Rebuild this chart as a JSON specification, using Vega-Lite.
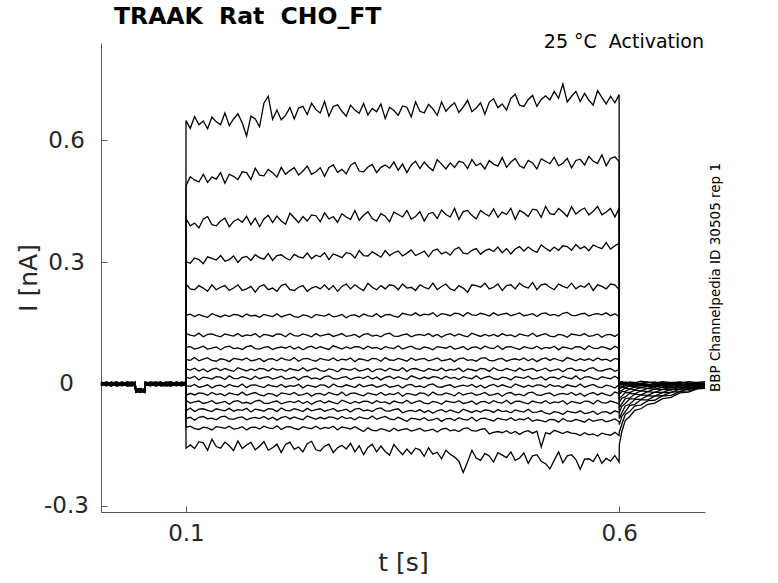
{
  "$schema": "https://vega.github.io/schema/vega-lite/v6.json",
  "description": "TRAAK Rat CHO_FT activation current traces",
  "autosize": {"type": "none"},
  "width": 604,
  "height": 469,
  "padding": {"left": 101, "top": 43, "right": 73, "bottom": 71},
  "background": "white",
  "title": {
    "text": "TRAAK\u00a0\u00a0Rat\u00a0\u00a0CHO_FT",
    "anchor": "start",
    "frame": "group",
    "dx": 13,
    "offset": -15,
    "baseline": "alphabetic",
    "font": "DejaVu Sans",
    "fontSize": 23.5,
    "fontWeight": "bold",
    "color": "#000000"
  },
  "config": {
    "view": {"stroke": null},
    "axis": {
      "grid": false,
      "domainColor": "#595959",
      "domainWidth": 1,
      "tickColor": "#595959",
      "tickWidth": 1,
      "tickSize": -6,
      "labelFont": "DejaVu Sans",
      "labelFontSize": 23,
      "labelColor": "#262626",
      "titleFont": "DejaVu Sans",
      "titleFontSize": 25,
      "titleFontWeight": "normal",
      "titleColor": "#262626"
    },
    "axisX": {"labelPadding": 16, "titlePadding": 5},
    "axisY": {"labelAlign": "center", "labelBaseline": "middle", "labelPadding": 41, "titlePadding": 2}
  },
  "layer": [
    {
      "data": {
        "values": [
          {"t":0.002,"a":0.002,"b":-0.003,"c":0.004,"d":-0.001,"e":0.003,"f":-0.004,"g":0.001,"h":-0.002,"i":0.005,"j":-0.003,"k":0.002,"l":-0.005,"m":0.003,"n":0.000,"o":-0.002,"p":0.004,"q":-0.004,"r":0.001},
          {"t":0.008,"a":-0.004,"b":0.003,"c":-0.001,"d":0.005,"e":-0.002,"f":0.002,"g":-0.005,"h":0.004,"i":0.000,"j":0.003,"k":-0.003,"l":0.001,"m":-0.004,"n":0.005,"o":0.002,"p":-0.001,"q":0.003,"r":-0.003},
          {"t":0.014,"a":0.005,"b":0.000,"c":-0.004,"d":0.002,"e":-0.005,"f":0.004,"g":0.003,"h":-0.001,"i":-0.003,"j":0.001,"k":0.005,"l":-0.002,"m":0.002,"n":-0.004,"o":0.004,"p":-0.005,"q":0.000,"r":0.003},
          {"t":0.020,"a":-0.001,"b":0.004,"c":0.002,"d":-0.005,"e":0.001,"f":-0.002,"g":0.005,"h":0.000,"i":0.003,"j":-0.004,"k":-0.001,"l":0.004,"m":-0.003,"n":0.002,"o":-0.005,"p":0.003,"q":0.005,"r":-0.002},
          {"t":0.026,"a":0.003,"b":-0.002,"c":-0.005,"d":0.004,"e":0.000,"f":0.001,"g":-0.003,"h":0.005,"i":-0.001,"j":-0.002,"k":0.004,"l":-0.004,"m":0.001,"n":0.003,"o":-0.003,"p":0.000,"q":-0.001,"r":0.004},
          {"t":0.032,"a":-0.003,"b":0.001,"c":0.003,"d":-0.002,"e":0.004,"f":-0.005,"g":0.000,"h":0.002,"i":-0.004,"j":0.005,"k":-0.001,"l":0.003,"m":-0.002,"n":-0.003,"o":0.001,"p":0.005,"q":-0.004,"r":0.000},
          {"t":0.038,"a":0.002,"b":-0.003,"c":0.004,"d":-0.001,"e":0.003,"f":-0.004,"g":0.001,"h":-0.002,"i":0.005,"j":-0.003,"k":0.002,"l":-0.005,"m":0.003,"n":0.000,"o":-0.002,"p":0.004,"q":-0.004,"r":0.001},
          {"t":0.0415,"a":0.005,"b":0.000,"c":-0.004,"d":0.002,"e":-0.005,"f":0.004,"g":0.003,"h":-0.001,"i":-0.003,"j":0.001,"k":0.005,"l":-0.002,"m":0.002,"n":-0.004,"o":0.004,"p":-0.005,"q":0.000,"r":0.003},
          {"t":0.042,"a":-0.020,"b":-0.013,"c":-0.017,"d":-0.011,"e":-0.018,"f":-0.014,"g":-0.021,"h":-0.012,"i":-0.016,"j":-0.013,"k":-0.019,"l":-0.015,"m":-0.020,"n":-0.011,"o":-0.014,"p":-0.017,"q":-0.013,"r":-0.019},
          {"t":0.0475,"a":-0.013,"b":-0.018,"c":-0.021,"d":-0.012,"e":-0.016,"f":-0.015,"g":-0.019,"h":-0.011,"i":-0.017,"j":-0.018,"k":-0.012,"l":-0.020,"m":-0.015,"n":-0.013,"o":-0.019,"p":-0.016,"q":-0.017,"r":-0.012},
          {"t":0.0525,"a":-0.017,"b":-0.012,"c":-0.014,"d":-0.021,"e":-0.015,"f":-0.018,"g":-0.011,"h":-0.016,"i":-0.013,"j":-0.020,"k":-0.017,"l":-0.012,"m":-0.019,"n":-0.014,"o":-0.021,"p":-0.013,"q":-0.011,"r":-0.018},
          {"t":0.053,"a":-0.003,"b":0.001,"c":0.003,"d":-0.002,"e":0.004,"f":-0.005,"g":0.000,"h":0.002,"i":-0.004,"j":0.005,"k":-0.001,"l":0.003,"m":-0.002,"n":-0.003,"o":0.001,"p":0.005,"q":-0.004,"r":0.000},
          {"t":0.059,"a":-0.004,"b":0.003,"c":-0.001,"d":0.005,"e":-0.002,"f":0.002,"g":-0.005,"h":0.004,"i":0.000,"j":0.003,"k":-0.003,"l":0.001,"m":-0.004,"n":0.005,"o":0.002,"p":-0.001,"q":0.003,"r":-0.003},
          {"t":0.065,"a":-0.001,"b":0.004,"c":0.002,"d":-0.005,"e":0.001,"f":-0.002,"g":0.005,"h":0.000,"i":0.003,"j":-0.004,"k":-0.001,"l":0.004,"m":-0.003,"n":0.002,"o":-0.005,"p":0.003,"q":0.005,"r":-0.002},
          {"t":0.071,"a":0.002,"b":-0.003,"c":0.004,"d":-0.001,"e":0.003,"f":-0.004,"g":0.001,"h":-0.002,"i":0.005,"j":-0.003,"k":0.002,"l":-0.005,"m":0.003,"n":0.000,"o":-0.002,"p":0.004,"q":-0.004,"r":0.001},
          {"t":0.077,"a":0.003,"b":-0.002,"c":-0.005,"d":0.004,"e":0.000,"f":0.001,"g":-0.003,"h":0.005,"i":-0.001,"j":-0.002,"k":0.004,"l":-0.004,"m":0.001,"n":0.003,"o":-0.003,"p":0.000,"q":-0.001,"r":0.004},
          {"t":0.083,"a":0.005,"b":0.000,"c":-0.004,"d":0.002,"e":-0.005,"f":0.004,"g":0.003,"h":-0.001,"i":-0.003,"j":0.001,"k":0.005,"l":-0.002,"m":0.002,"n":-0.004,"o":0.004,"p":-0.005,"q":0.000,"r":0.003},
          {"t":0.089,"a":-0.003,"b":0.001,"c":0.003,"d":-0.002,"e":0.004,"f":-0.005,"g":0.000,"h":0.002,"i":-0.004,"j":0.005,"k":-0.001,"l":0.003,"m":-0.002,"n":-0.003,"o":0.001,"p":0.005,"q":-0.004,"r":0.000},
          {"t":0.095,"a":-0.004,"b":0.003,"c":-0.001,"d":0.005,"e":-0.002,"f":0.002,"g":-0.005,"h":0.004,"i":0.000,"j":0.003,"k":-0.003,"l":0.001,"m":-0.004,"n":0.005,"o":0.002,"p":-0.001,"q":0.003,"r":-0.003},
          {"t":0.0999,"a":-0.001,"b":0.004,"c":0.002,"d":-0.005,"e":0.001,"f":-0.002,"g":0.005,"h":0.000,"i":0.003,"j":-0.004,"k":-0.001,"l":0.004,"m":-0.003,"n":0.002,"o":-0.005,"p":0.003,"q":0.005,"r":-0.002},
          {"t":0.1001,"a":0.648,"b":0.488,"c":0.407,"d":0.301,"e":0.246,"f":0.169,"g":0.124,"h":0.090,"i":0.060,"j":0.037,"k":0.016,"l":-0.004,"m":-0.028,"n":-0.041,"o":-0.066,"p":-0.085,"q":-0.107,"r":-0.158},
          {"t":0.105,"a":0.629,"b":0.510,"c":0.389,"d":0.297,"e":0.234,"f":0.172,"g":0.120,"h":0.092,"i":0.058,"j":0.034,"k":0.014,"l":-0.006,"m":-0.023,"n":-0.047,"o":-0.059,"p":-0.082,"q":-0.104,"r":-0.150},
          {"t":0.110,"a":0.658,"b":0.502,"c":0.396,"d":0.310,"e":0.232,"f":0.166,"g":0.118,"h":0.086,"i":0.065,"j":0.039,"k":0.019,"l":-0.001,"m":-0.027,"n":-0.044,"o":-0.068,"p":-0.089,"q":-0.110,"r":-0.159},
          {"t":0.115,"a":0.638,"b":0.497,"c":0.384,"d":0.306,"e":0.242,"f":0.171,"g":0.125,"h":0.089,"i":0.057,"j":0.032,"k":0.010,"l":-0.008,"m":-0.022,"n":-0.042,"o":-0.062,"p":-0.082,"q":-0.112,"r":-0.142},
          {"t":0.120,"a":0.647,"b":0.516,"c":0.406,"d":0.296,"e":0.236,"f":0.167,"g":0.116,"h":0.093,"i":0.061,"j":0.037,"k":0.017,"l":-0.006,"m":-0.023,"n":-0.048,"o":-0.061,"p":-0.080,"q":-0.106,"r":-0.145},
          {"t":0.125,"a":0.628,"b":0.496,"c":0.412,"d":0.313,"e":0.228,"f":0.164,"g":0.122,"h":0.086,"i":0.064,"j":0.030,"k":0.015,"l":-0.002,"m":-0.028,"n":-0.045,"o":-0.065,"p":-0.086,"q":-0.108,"r":-0.163},
          {"t":0.130,"a":0.657,"b":0.509,"c":0.392,"d":0.309,"e":0.244,"f":0.173,"g":0.123,"h":0.088,"i":0.058,"j":0.036,"k":0.012,"l":-0.010,"m":-0.021,"n":-0.041,"o":-0.068,"p":-0.084,"q":-0.113,"r":-0.136},
          {"t":0.135,"a":0.645,"b":0.504,"c":0.389,"d":0.305,"e":0.232,"f":0.169,"g":0.119,"h":0.091,"i":0.056,"j":0.039,"k":0.018,"l":-0.004,"m":-0.026,"n":-0.048,"o":-0.061,"p":-0.088,"q":-0.105,"r":-0.154},
          {"t":0.140,"a":0.638,"b":0.520,"c":0.401,"d":0.316,"e":0.238,"f":0.165,"g":0.116,"h":0.084,"i":0.062,"j":0.033,"k":0.017,"l":-0.003,"m":-0.024,"n":-0.046,"o":-0.064,"p":-0.081,"q":-0.107,"r":-0.158},
          {"t":0.145,"a":0.667,"b":0.494,"c":0.408,"d":0.302,"e":0.242,"f":0.170,"g":0.123,"h":0.091,"i":0.060,"j":0.038,"k":0.011,"l":-0.008,"m":-0.029,"n":-0.043,"o":-0.066,"p":-0.079,"q":-0.109,"r":-0.143},
          {"t":0.150,"a":0.636,"b":0.516,"c":0.387,"d":0.306,"e":0.230,"f":0.166,"g":0.120,"h":0.093,"i":0.055,"j":0.034,"k":0.020,"l":-0.001,"m":-0.022,"n":-0.050,"o":-0.060,"p":-0.086,"q":-0.104,"r":-0.152},
          {"t":0.155,"a":0.652,"b":0.511,"c":0.400,"d":0.315,"e":0.236,"f":0.171,"g":0.118,"h":0.087,"i":0.063,"j":0.031,"k":0.014,"l":-0.005,"m":-0.025,"n":-0.043,"o":-0.067,"p":-0.087,"q":-0.111,"r":-0.164},
          {"t":0.160,"a":0.665,"b":0.503,"c":0.406,"d":0.299,"e":0.244,"f":0.170,"g":0.124,"h":0.089,"i":0.061,"j":0.040,"k":0.013,"l":-0.007,"m":-0.027,"n":-0.041,"o":-0.063,"p":-0.083,"q":-0.109,"r":-0.140},
          {"t":0.165,"a":0.642,"b":0.522,"c":0.398,"d":0.311,"e":0.230,"f":0.165,"g":0.117,"h":0.085,"i":0.059,"j":0.036,"k":0.018,"l":0.000,"m":-0.020,"n":-0.047,"o":-0.065,"p":-0.081,"q":-0.105,"r":-0.159},
          {"t":0.170,"a":0.610,"b":0.520,"c":0.413,"d":0.314,"e":0.234,"f":0.172,"g":0.121,"h":0.092,"i":0.064,"j":0.032,"k":0.015,"l":-0.009,"m":-0.028,"n":-0.045,"o":-0.060,"p":-0.088,"q":-0.113,"r":-0.150},
          {"t":0.175,"a":0.659,"b":0.503,"c":0.392,"d":0.304,"e":0.240,"f":0.167,"g":0.119,"h":0.094,"i":0.057,"j":0.037,"k":0.011,"l":-0.003,"m":-0.024,"n":-0.049,"o":-0.069,"p":-0.084,"q":-0.107,"r":-0.144},
          {"t":0.180,"a":0.652,"b":0.531,"c":0.408,"d":0.318,"e":0.226,"f":0.169,"g":0.124,"h":0.087,"i":0.059,"j":0.033,"k":0.019,"l":-0.002,"m":-0.021,"n":-0.042,"o":-0.062,"p":-0.082,"q":-0.106,"r":-0.162},
          {"t":0.185,"a":0.633,"b":0.514,"c":0.387,"d":0.311,"e":0.240,"f":0.164,"g":0.115,"h":0.086,"i":0.063,"j":0.038,"k":0.013,"l":-0.006,"m":-0.027,"n":-0.040,"o":-0.064,"p":-0.085,"q":-0.111,"r":-0.153},
          {"t":0.190,"a":0.691,"b":0.512,"c":0.406,"d":0.307,"e":0.244,"f":0.171,"g":0.122,"h":0.090,"i":0.055,"j":0.037,"k":0.016,"l":-0.009,"m":-0.029,"n":-0.047,"o":-0.067,"p":-0.080,"q":-0.104,"r":-0.142},
          {"t":0.195,"a":0.708,"b":0.528,"c":0.415,"d":0.321,"e":0.232,"f":0.168,"g":0.120,"h":0.092,"i":0.061,"j":0.032,"k":0.018,"l":-0.002,"m":-0.023,"n":-0.048,"o":-0.061,"p":-0.087,"q":-0.108,"r":-0.163},
          {"t":0.200,"a":0.651,"b":0.520,"c":0.397,"d":0.304,"e":0.236,"f":0.166,"g":0.117,"h":0.085,"i":0.062,"j":0.039,"k":0.012,"l":-0.005,"m":-0.025,"n":-0.044,"o":-0.062,"p":-0.082,"q":-0.110,"r":-0.157},
          {"t":0.205,"a":0.674,"b":0.509,"c":0.413,"d":0.316,"e":0.228,"f":0.173,"g":0.123,"h":0.089,"i":0.057,"j":0.034,"k":0.015,"l":-0.007,"m":-0.030,"n":-0.042,"o":-0.068,"p":-0.089,"q":-0.103,"r":-0.148},
          {"t":0.210,"a":0.650,"b":0.533,"c":0.401,"d":0.318,"e":0.242,"f":0.165,"g":0.122,"h":0.091,"i":0.064,"j":0.036,"k":0.019,"l":-0.001,"m":-0.022,"n":-0.049,"o":-0.059,"p":-0.083,"q":-0.112,"r":-0.169},
          {"t":0.215,"a":0.661,"b":0.516,"c":0.393,"d":0.310,"e":0.246,"f":0.169,"g":0.116,"h":0.088,"i":0.060,"j":0.031,"k":0.012,"l":-0.008,"m":-0.024,"n":-0.045,"o":-0.065,"p":-0.080,"q":-0.106,"r":-0.149},
          {"t":0.220,"a":0.680,"b":0.525,"c":0.420,"d":0.305,"e":0.232,"f":0.172,"g":0.125,"h":0.093,"i":0.058,"j":0.038,"k":0.014,"l":-0.004,"m":-0.026,"n":-0.043,"o":-0.066,"p":-0.086,"q":-0.105,"r":-0.143},
          {"t":0.225,"a":0.652,"b":0.532,"c":0.409,"d":0.319,"e":0.230,"f":0.166,"g":0.119,"h":0.086,"i":0.065,"j":0.035,"k":0.017,"l":-0.006,"m":-0.021,"n":-0.046,"o":-0.061,"p":-0.081,"q":-0.109,"r":-0.161},
          {"t":0.230,"a":0.679,"b":0.514,"c":0.397,"d":0.313,"e":0.238,"f":0.164,"g":0.118,"h":0.091,"i":0.056,"j":0.033,"k":0.010,"l":-0.001,"m":-0.028,"n":-0.041,"o":-0.064,"p":-0.085,"q":-0.112,"r":-0.155},
          {"t":0.235,"a":0.683,"b":0.524,"c":0.412,"d":0.310,"e":0.242,"f":0.170,"g":0.123,"h":0.084,"i":0.062,"j":0.040,"k":0.017,"l":-0.010,"m":-0.026,"n":-0.048,"o":-0.068,"p":-0.088,"q":-0.105,"r":-0.167},
          {"t":0.240,"a":0.663,"b":0.536,"c":0.401,"d":0.322,"e":0.228,"f":0.168,"g":0.120,"h":0.090,"i":0.063,"j":0.032,"k":0.019,"l":-0.003,"m":-0.022,"n":-0.043,"o":-0.060,"p":-0.079,"q":-0.108,"r":-0.147},
          {"t":0.245,"a":0.691,"b":0.516,"c":0.416,"d":0.308,"e":0.236,"f":0.163,"g":0.116,"h":0.093,"i":0.059,"j":0.036,"k":0.013,"l":-0.005,"m":-0.030,"n":-0.050,"o":-0.066,"p":-0.083,"q":-0.110,"r":-0.141},
          {"t":0.250,"a":0.675,"b":0.522,"c":0.414,"d":0.317,"e":0.240,"f":0.171,"g":0.124,"h":0.087,"i":0.056,"j":0.039,"k":0.015,"l":-0.008,"m":-0.024,"n":-0.044,"o":-0.063,"p":-0.087,"q":-0.104,"r":-0.162},
          {"t":0.255,"a":0.667,"b":0.532,"c":0.399,"d":0.313,"e":0.234,"f":0.169,"g":0.118,"h":0.092,"i":0.063,"j":0.033,"k":0.011,"l":-0.002,"m":-0.023,"n":-0.041,"o":-0.061,"p":-0.082,"q":-0.111,"r":-0.165},
          {"t":0.260,"a":0.695,"b":0.511,"c":0.421,"d":0.323,"e":0.244,"f":0.167,"g":0.121,"h":0.088,"i":0.060,"j":0.031,"k":0.018,"l":-0.003,"m":-0.028,"n":-0.047,"o":-0.067,"p":-0.086,"q":-0.107,"r":-0.153},
          {"t":0.265,"a":0.659,"b":0.533,"c":0.406,"d":0.306,"e":0.232,"f":0.172,"g":0.123,"h":0.085,"i":0.058,"j":0.037,"k":0.020,"l":-0.009,"m":-0.021,"n":-0.042,"o":-0.064,"p":-0.081,"q":-0.109,"r":-0.148},
          {"t":0.270,"a":0.683,"b":0.539,"c":0.412,"d":0.320,"e":0.242,"f":0.165,"g":0.117,"h":0.094,"i":0.064,"j":0.035,"k":0.013,"l":0.000,"m":-0.025,"n":-0.046,"o":-0.060,"p":-0.082,"q":-0.104,"r":-0.169},
          {"t":0.275,"a":0.687,"b":0.521,"c":0.398,"d":0.316,"e":0.228,"f":0.167,"g":0.120,"h":0.090,"i":0.057,"j":0.030,"k":0.012,"l":-0.006,"m":-0.027,"n":-0.049,"o":-0.067,"p":-0.087,"q":-0.113,"r":-0.157},
          {"t":0.280,"a":0.671,"b":0.528,"c":0.419,"d":0.311,"e":0.240,"f":0.171,"g":0.124,"h":0.086,"i":0.061,"j":0.038,"k":0.016,"l":-0.007,"m":-0.020,"n":-0.040,"o":-0.065,"p":-0.080,"q":-0.106,"r":-0.151},
          {"t":0.285,"a":0.659,"b":0.517,"c":0.411,"d":0.323,"e":0.246,"f":0.163,"g":0.117,"h":0.091,"i":0.059,"j":0.036,"k":0.018,"l":-0.002,"m":-0.029,"n":-0.044,"o":-0.062,"p":-0.085,"q":-0.108,"r":-0.160},
          {"t":0.290,"a":0.686,"b":0.538,"c":0.405,"d":0.321,"e":0.234,"f":0.169,"g":0.119,"h":0.087,"i":0.064,"j":0.034,"k":0.011,"l":-0.005,"m":-0.023,"n":-0.048,"o":-0.069,"p":-0.083,"q":-0.111,"r":-0.146},
          {"t":0.295,"a":0.674,"b":0.545,"c":0.427,"d":0.310,"e":0.244,"f":0.170,"g":0.122,"h":0.092,"i":0.055,"j":0.039,"k":0.015,"l":-0.009,"m":-0.022,"n":-0.043,"o":-0.062,"p":-0.088,"q":-0.105,"r":-0.167},
          {"t":0.300,"a":0.666,"b":0.524,"c":0.403,"d":0.328,"e":0.236,"f":0.165,"g":0.115,"h":0.091,"i":0.062,"j":0.032,"k":0.017,"l":-0.001,"m":-0.026,"n":-0.047,"o":-0.060,"p":-0.081,"q":-0.111,"r":-0.152},
          {"t":0.305,"a":0.690,"b":0.522,"c":0.415,"d":0.316,"e":0.230,"f":0.172,"g":0.122,"h":0.086,"i":0.060,"j":0.034,"k":0.014,"l":-0.007,"m":-0.029,"n":-0.042,"o":-0.066,"p":-0.084,"q":-0.117,"r":-0.174},
          {"t":0.310,"a":0.662,"b":0.534,"c":0.424,"d":0.315,"e":0.248,"f":0.168,"g":0.124,"h":0.093,"i":0.057,"j":0.038,"k":0.019,"l":-0.004,"m":-0.022,"n":-0.043,"o":-0.064,"p":-0.086,"q":-0.108,"r":-0.156},
          {"t":0.315,"a":0.678,"b":0.540,"c":0.407,"d":0.325,"e":0.238,"f":0.166,"g":0.118,"h":0.088,"i":0.063,"j":0.030,"k":0.012,"l":-0.002,"m":-0.025,"n":-0.048,"o":-0.068,"p":-0.079,"q":-0.114,"r":-0.148},
          {"t":0.320,"a":0.670,"b":0.520,"c":0.401,"d":0.319,"e":0.232,"f":0.173,"g":0.120,"h":0.090,"i":0.062,"j":0.036,"k":0.017,"l":-0.008,"m":-0.027,"n":-0.041,"o":-0.061,"p":-0.087,"q":-0.115,"r":-0.167},
          {"t":0.325,"a":0.689,"b":0.533,"c":0.419,"d":0.312,"e":0.242,"f":0.164,"g":0.116,"h":0.085,"i":0.056,"j":0.037,"k":0.010,"l":-0.005,"m":-0.021,"n":-0.046,"o":-0.059,"p":-0.083,"q":-0.110,"r":-0.153},
          {"t":0.330,"a":0.653,"b":0.539,"c":0.413,"d":0.328,"e":0.234,"f":0.170,"g":0.123,"h":0.092,"i":0.065,"j":0.032,"k":0.016,"l":-0.001,"m":-0.028,"n":-0.044,"o":-0.066,"p":-0.080,"q":-0.113,"r":-0.166},
          {"t":0.335,"a":0.681,"b":0.531,"c":0.399,"d":0.316,"e":0.244,"f":0.171,"g":0.125,"h":0.089,"i":0.059,"j":0.039,"k":0.019,"l":-0.008,"m":-0.024,"n":-0.049,"o":-0.067,"p":-0.086,"q":-0.117,"r":-0.175},
          {"t":0.340,"a":0.673,"b":0.546,"c":0.423,"d":0.323,"e":0.242,"f":0.167,"g":0.118,"h":0.087,"i":0.058,"j":0.035,"k":0.013,"l":-0.006,"m":-0.026,"n":-0.042,"o":-0.063,"p":-0.088,"q":-0.109,"r":-0.149},
          {"t":0.345,"a":0.661,"b":0.526,"c":0.417,"d":0.327,"e":0.232,"f":0.164,"g":0.117,"h":0.094,"i":0.063,"j":0.033,"k":0.018,"l":-0.003,"m":-0.021,"n":-0.045,"o":-0.061,"p":-0.082,"q":-0.115,"r":-0.162},
          {"t":0.350,"a":0.684,"b":0.541,"c":0.411,"d":0.315,"e":0.246,"f":0.174,"g":0.121,"h":0.086,"i":0.060,"j":0.040,"k":0.014,"l":-0.010,"m":-0.030,"n":-0.047,"o":-0.071,"p":-0.087,"q":-0.112,"r":-0.174},
          {"t":0.355,"a":0.681,"b":0.520,"c":0.427,"d":0.322,"e":0.236,"f":0.171,"g":0.123,"h":0.090,"i":0.056,"j":0.031,"k":0.011,"l":-0.003,"m":-0.023,"n":-0.040,"o":-0.067,"p":-0.092,"q":-0.110,"r":-0.160},
          {"t":0.360,"a":0.657,"b":0.539,"c":0.406,"d":0.330,"e":0.238,"f":0.169,"g":0.116,"h":0.093,"i":0.064,"j":0.037,"k":0.020,"l":-0.001,"m":-0.025,"n":-0.048,"o":-0.065,"p":-0.084,"q":-0.116,"r":-0.172},
          {"t":0.365,"a":0.694,"b":0.548,"c":0.412,"d":0.316,"e":0.230,"f":0.175,"g":0.120,"h":0.087,"i":0.058,"j":0.038,"k":0.016,"l":-0.007,"m":-0.028,"n":-0.044,"o":-0.068,"p":-0.086,"q":-0.113,"r":-0.158},
          {"t":0.370,"a":0.671,"b":0.530,"c":0.424,"d":0.321,"e":0.244,"f":0.168,"g":0.122,"h":0.085,"i":0.061,"j":0.034,"k":0.012,"l":-0.005,"m":-0.022,"n":-0.041,"o":-0.063,"p":-0.088,"q":-0.109,"r":-0.162},
          {"t":0.375,"a":0.667,"b":0.546,"c":0.401,"d":0.327,"e":0.238,"f":0.172,"g":0.119,"h":0.091,"i":0.063,"j":0.031,"k":0.017,"l":-0.009,"m":-0.023,"n":-0.047,"o":-0.070,"p":-0.083,"q":-0.116,"r":-0.178},
          {"t":0.380,"a":0.688,"b":0.534,"c":0.419,"d":0.313,"e":0.234,"f":0.170,"g":0.124,"h":0.089,"i":0.057,"j":0.038,"k":0.013,"l":-0.002,"m":-0.029,"n":-0.049,"o":-0.065,"p":-0.090,"q":-0.114,"r":-0.157},
          {"t":0.385,"a":0.677,"b":0.525,"c":0.422,"d":0.328,"e":0.248,"f":0.175,"g":0.117,"h":0.084,"i":0.060,"j":0.035,"k":0.018,"l":0.000,"m":-0.020,"n":-0.043,"o":-0.072,"p":-0.088,"q":-0.111,"r":-0.173},
          {"t":0.390,"a":0.661,"b":0.552,"c":0.407,"d":0.332,"e":0.232,"f":0.166,"g":0.122,"h":0.092,"i":0.064,"j":0.033,"k":0.017,"l":-0.007,"m":-0.026,"n":-0.045,"o":-0.066,"p":-0.084,"q":-0.118,"r":-0.168},
          {"t":0.395,"a":0.694,"b":0.541,"c":0.428,"d":0.320,"e":0.240,"f":0.173,"g":0.115,"h":0.090,"i":0.057,"j":0.039,"k":0.012,"l":-0.008,"m":-0.027,"n":-0.050,"o":-0.063,"p":-0.092,"q":-0.111,"r":-0.184},
          {"t":0.400,"a":0.671,"b":0.529,"c":0.417,"d":0.325,"e":0.246,"f":0.171,"g":0.121,"h":0.088,"i":0.059,"j":0.032,"k":0.019,"l":-0.004,"m":-0.022,"n":-0.042,"o":-0.069,"p":-0.086,"q":-0.109,"r":-0.163},
          {"t":0.405,"a":0.683,"b":0.544,"c":0.411,"d":0.317,"e":0.234,"f":0.168,"g":0.124,"h":0.093,"i":0.062,"j":0.036,"k":0.014,"l":-0.002,"m":-0.025,"n":-0.044,"o":-0.064,"p":-0.085,"q":-0.115,"r":-0.173},
          {"t":0.410,"a":0.692,"b":0.533,"c":0.432,"d":0.331,"e":0.230,"f":0.174,"g":0.118,"h":0.086,"i":0.055,"j":0.034,"k":0.016,"l":-0.009,"m":-0.029,"n":-0.046,"o":-0.068,"p":-0.090,"q":-0.113,"r":-0.180},
          {"t":0.415,"a":0.668,"b":0.548,"c":0.405,"d":0.336,"e":0.242,"f":0.173,"g":0.123,"h":0.088,"i":0.062,"j":0.039,"k":0.011,"l":-0.005,"m":-0.021,"n":-0.041,"o":-0.071,"p":-0.083,"q":-0.117,"r":-0.190},
          {"t":0.420,"a":0.681,"b":0.545,"c":0.424,"d":0.322,"e":0.236,"f":0.167,"g":0.119,"h":0.092,"i":0.064,"j":0.030,"k":0.018,"l":-0.003,"m":-0.027,"n":-0.048,"o":-0.062,"p":-0.087,"q":-0.110,"r":-0.218},
          {"t":0.425,"a":0.698,"b":0.530,"c":0.427,"d":0.320,"e":0.226,"f":0.176,"g":0.116,"h":0.084,"i":0.058,"j":0.037,"k":0.015,"l":-0.006,"m":-0.024,"n":-0.046,"o":-0.066,"p":-0.089,"q":-0.108,"r":-0.192},
          {"t":0.430,"a":0.670,"b":0.552,"c":0.415,"d":0.329,"e":0.244,"f":0.170,"g":0.125,"h":0.090,"i":0.060,"j":0.035,"k":0.013,"l":-0.001,"m":-0.022,"n":-0.042,"o":-0.070,"p":-0.082,"q":-0.115,"r":-0.163},
          {"t":0.435,"a":0.679,"b":0.537,"c":0.406,"d":0.333,"e":0.242,"f":0.169,"g":0.121,"h":0.091,"i":0.056,"j":0.032,"k":0.020,"l":-0.008,"m":-0.028,"n":-0.050,"o":-0.065,"p":-0.091,"q":-0.116,"r":-0.182},
          {"t":0.440,"a":0.692,"b":0.543,"c":0.427,"d":0.319,"e":0.238,"f":0.174,"g":0.117,"h":0.086,"i":0.063,"j":0.038,"k":0.012,"l":-0.003,"m":-0.025,"n":-0.044,"o":-0.069,"p":-0.085,"q":-0.112,"r":-0.188},
          {"t":0.445,"a":0.664,"b":0.529,"c":0.419,"d":0.328,"e":0.248,"f":0.171,"g":0.122,"h":0.093,"i":0.065,"j":0.037,"k":0.016,"l":-0.010,"m":-0.021,"n":-0.043,"o":-0.064,"p":-0.084,"q":-0.110,"r":-0.171},
          {"t":0.450,"a":0.693,"b":0.550,"c":0.413,"d":0.332,"e":0.234,"f":0.167,"g":0.118,"h":0.089,"i":0.058,"j":0.031,"k":0.019,"l":-0.004,"m":-0.028,"n":-0.048,"o":-0.065,"p":-0.088,"q":-0.123,"r":-0.177},
          {"t":0.455,"a":0.702,"b":0.541,"c":0.431,"d":0.326,"e":0.238,"f":0.175,"g":0.122,"h":0.087,"i":0.057,"j":0.040,"k":0.013,"l":-0.001,"m":-0.026,"n":-0.041,"o":-0.070,"p":-0.091,"q":-0.119,"r":-0.192},
          {"t":0.460,"a":0.680,"b":0.536,"c":0.410,"d":0.337,"e":0.246,"f":0.169,"g":0.117,"h":0.094,"i":0.061,"j":0.034,"k":0.011,"l":-0.007,"m":-0.023,"n":-0.045,"o":-0.063,"p":-0.084,"q":-0.117,"r":-0.169},
          {"t":0.465,"a":0.689,"b":0.557,"c":0.423,"d":0.323,"e":0.230,"f":0.172,"g":0.124,"h":0.085,"i":0.063,"j":0.033,"k":0.017,"l":-0.002,"m":-0.030,"n":-0.047,"o":-0.068,"p":-0.087,"q":-0.120,"r":-0.175},
          {"t":0.470,"a":0.674,"b":0.533,"c":0.417,"d":0.333,"e":0.242,"f":0.174,"g":0.119,"h":0.091,"i":0.056,"j":0.038,"k":0.015,"l":-0.006,"m":-0.023,"n":-0.040,"o":-0.066,"p":-0.089,"q":-0.115,"r":-0.181},
          {"t":0.475,"a":0.703,"b":0.546,"c":0.432,"d":0.320,"e":0.244,"f":0.168,"g":0.121,"h":0.092,"i":0.060,"j":0.035,"k":0.010,"l":-0.009,"m":-0.021,"n":-0.049,"o":-0.071,"p":-0.083,"q":-0.122,"r":-0.167},
          {"t":0.480,"a":0.713,"b":0.555,"c":0.405,"d":0.332,"e":0.234,"f":0.171,"g":0.116,"h":0.088,"i":0.062,"j":0.031,"k":0.018,"l":0.000,"m":-0.027,"n":-0.043,"o":-0.064,"p":-0.090,"q":-0.117,"r":-0.188},
          {"t":0.485,"a":0.686,"b":0.537,"c":0.427,"d":0.338,"e":0.248,"f":0.175,"g":0.123,"h":0.085,"i":0.059,"j":0.039,"k":0.016,"l":-0.004,"m":-0.025,"n":-0.042,"o":-0.067,"p":-0.086,"q":-0.124,"r":-0.182},
          {"t":0.490,"a":0.683,"b":0.531,"c":0.421,"d":0.327,"e":0.240,"f":0.168,"g":0.120,"h":0.092,"i":0.064,"j":0.033,"k":0.014,"l":-0.008,"m":-0.029,"n":-0.046,"o":-0.069,"p":-0.088,"q":-0.118,"r":-0.170},
          {"t":0.495,"a":0.700,"b":0.550,"c":0.412,"d":0.337,"e":0.236,"f":0.170,"g":0.118,"h":0.089,"i":0.057,"j":0.036,"k":0.019,"l":-0.003,"m":-0.022,"n":-0.049,"o":-0.062,"p":-0.083,"q":-0.115,"r":-0.195},
          {"t":0.500,"a":0.710,"b":0.544,"c":0.430,"d":0.329,"e":0.250,"f":0.173,"g":0.125,"h":0.087,"i":0.062,"j":0.038,"k":0.012,"l":-0.007,"m":-0.020,"n":-0.042,"o":-0.070,"p":-0.092,"q":-0.121,"r":-0.177},
          {"t":0.505,"a":0.683,"b":0.529,"c":0.428,"d":0.324,"e":0.232,"f":0.166,"g":0.117,"h":0.093,"i":0.055,"j":0.032,"k":0.014,"l":-0.002,"m":-0.027,"n":-0.045,"o":-0.069,"p":-0.088,"q":-0.116,"r":-0.174},
          {"t":0.510,"a":0.700,"b":0.554,"c":0.410,"d":0.342,"e":0.244,"f":0.173,"g":0.121,"h":0.086,"i":0.061,"j":0.035,"k":0.018,"l":-0.003,"m":-0.028,"n":-0.047,"o":-0.066,"p":-0.090,"q":-0.155,"r":-0.190},
          {"t":0.515,"a":0.709,"b":0.548,"c":0.437,"d":0.334,"e":0.246,"f":0.175,"g":0.124,"h":0.090,"i":0.064,"j":0.039,"k":0.010,"l":-0.008,"m":-0.024,"n":-0.041,"o":-0.072,"p":-0.093,"q":-0.120,"r":-0.196},
          {"t":0.520,"a":0.699,"b":0.542,"c":0.419,"d":0.327,"e":0.238,"f":0.169,"g":0.118,"h":0.088,"i":0.058,"j":0.032,"k":0.016,"l":-0.001,"m":-0.022,"n":-0.048,"o":-0.074,"p":-0.087,"q":-0.123,"r":-0.209},
          {"t":0.525,"a":0.720,"b":0.558,"c":0.417,"d":0.337,"e":0.232,"f":0.171,"g":0.116,"h":0.093,"i":0.063,"j":0.034,"k":0.017,"l":-0.006,"m":-0.029,"n":-0.044,"o":-0.068,"p":-0.088,"q":-0.114,"r":-0.188},
          {"t":0.530,"a":0.703,"b":0.537,"c":0.432,"d":0.329,"e":0.246,"f":0.167,"g":0.122,"h":0.084,"i":0.059,"j":0.037,"k":0.012,"l":-0.004,"m":-0.025,"n":-0.046,"o":-0.070,"p":-0.094,"q":-0.118,"r":-0.167},
          {"t":0.535,"a":0.738,"b":0.543,"c":0.423,"d":0.340,"e":0.240,"f":0.174,"g":0.120,"h":0.091,"i":0.056,"j":0.030,"k":0.019,"l":-0.009,"m":-0.023,"n":-0.041,"o":-0.075,"p":-0.085,"q":-0.122,"r":-0.194},
          {"t":0.540,"a":0.694,"b":0.555,"c":0.412,"d":0.338,"e":0.236,"f":0.176,"g":0.115,"h":0.089,"i":0.065,"j":0.037,"k":0.015,"l":-0.002,"m":-0.026,"n":-0.050,"o":-0.067,"p":-0.091,"q":-0.117,"r":-0.177},
          {"t":0.545,"a":0.708,"b":0.532,"c":0.436,"d":0.329,"e":0.248,"f":0.169,"g":0.123,"h":0.086,"i":0.061,"j":0.039,"k":0.013,"l":-0.005,"m":-0.021,"n":-0.043,"o":-0.069,"p":-0.092,"q":-0.121,"r":-0.174},
          {"t":0.550,"a":0.720,"b":0.550,"c":0.418,"d":0.343,"e":0.234,"f":0.168,"g":0.121,"h":0.092,"i":0.057,"j":0.033,"k":0.020,"l":-0.007,"m":-0.028,"n":-0.045,"o":-0.071,"p":-0.087,"q":-0.122,"r":-0.186},
          {"t":0.555,"a":0.695,"b":0.553,"c":0.427,"d":0.333,"e":0.242,"f":0.172,"g":0.119,"h":0.091,"i":0.062,"j":0.035,"k":0.011,"l":0.000,"m":-0.023,"n":-0.048,"o":-0.066,"p":-0.090,"q":-0.127,"r":-0.210},
          {"t":0.560,"a":0.715,"b":0.539,"c":0.433,"d":0.338,"e":0.238,"f":0.174,"g":0.124,"h":0.085,"i":0.058,"j":0.031,"k":0.017,"l":-0.008,"m":-0.030,"n":-0.042,"o":-0.073,"p":-0.094,"q":-0.120,"r":-0.185},
          {"t":0.565,"a":0.698,"b":0.560,"c":0.416,"d":0.328,"e":0.248,"f":0.167,"g":0.117,"h":0.094,"i":0.062,"j":0.038,"k":0.018,"l":-0.004,"m":-0.024,"n":-0.043,"o":-0.071,"p":-0.086,"q":-0.125,"r":-0.184},
          {"t":0.570,"a":0.686,"b":0.548,"c":0.425,"d":0.342,"e":0.230,"f":0.171,"g":0.119,"h":0.088,"i":0.057,"j":0.040,"k":0.014,"l":-0.001,"m":-0.021,"n":-0.049,"o":-0.067,"p":-0.092,"q":-0.123,"r":-0.191},
          {"t":0.575,"a":0.722,"b":0.543,"c":0.437,"d":0.337,"e":0.244,"f":0.173,"g":0.123,"h":0.087,"i":0.064,"j":0.033,"k":0.011,"l":-0.007,"m":-0.027,"n":-0.040,"o":-0.075,"p":-0.089,"q":-0.128,"r":-0.173},
          {"t":0.580,"a":0.705,"b":0.564,"c":0.416,"d":0.333,"e":0.240,"f":0.170,"g":0.115,"h":0.092,"i":0.059,"j":0.032,"k":0.018,"l":-0.009,"m":-0.022,"n":-0.046,"o":-0.069,"p":-0.087,"q":-0.121,"r":-0.195},
          {"t":0.585,"a":0.689,"b":0.537,"c":0.423,"d":0.348,"e":0.234,"f":0.175,"g":0.121,"h":0.089,"i":0.061,"j":0.036,"k":0.015,"l":-0.003,"m":-0.026,"n":-0.047,"o":-0.068,"p":-0.093,"q":-0.124,"r":-0.183},
          {"t":0.590,"a":0.708,"b":0.555,"c":0.432,"d":0.332,"e":0.246,"f":0.168,"g":0.122,"h":0.085,"i":0.056,"j":0.038,"k":0.013,"l":-0.005,"m":-0.029,"n":-0.042,"o":-0.073,"p":-0.090,"q":-0.126,"r":-0.190},
          {"t":0.595,"a":0.692,"b":0.559,"c":0.411,"d":0.340,"e":0.244,"f":0.173,"g":0.117,"h":0.093,"i":0.063,"j":0.031,"k":0.019,"l":-0.010,"m":-0.020,"n":-0.045,"o":-0.066,"p":-0.086,"q":-0.119,"r":-0.176},
          {"t":0.5999,"a":0.712,"b":0.547,"c":0.432,"d":0.346,"e":0.232,"f":0.166,"g":0.124,"h":0.087,"i":0.060,"j":0.035,"k":0.012,"l":-0.002,"m":-0.024,"n":-0.049,"o":-0.070,"p":-0.093,"q":-0.127,"r":-0.192},
          {"t":0.6001,"a":0.004,"b":0.003,"c":0.002,"d":0.000,"e":-0.002,"f":-0.004,"g":-0.008,"h":-0.012,"i":-0.018,"j":-0.025,"k":-0.035,"l":-0.045,"m":-0.058,"n":-0.070,"o":-0.085,"p":-0.100,"q":-0.118,"r":-0.150},
          {"t":0.603,"a":0.006,"b":0.001,"c":0.004,"d":-0.002,"e":0.000,"f":-0.006,"g":-0.009,"h":-0.008,"i":-0.016,"j":-0.019,"k":-0.030,"l":-0.035,"m":-0.049,"n":-0.055,"o":-0.071,"p":-0.080,"q":-0.099,"r":-0.117},
          {"t":0.607,"a":0.002,"b":0.005,"c":0.000,"d":0.002,"e":-0.004,"f":-0.002,"g":-0.004,"h":-0.010,"i":-0.010,"j":-0.018,"k":-0.021,"l":-0.032,"m":-0.036,"n":-0.048,"o":-0.054,"p":-0.068,"q":-0.075,"r":-0.090},
          {"t":0.612,"a":0.005,"b":0.002,"c":0.003,"d":-0.001,"e":-0.001,"f":-0.003,"g":-0.006,"h":-0.005,"i":-0.012,"j":-0.012,"k":-0.021,"l":-0.023,"m":-0.035,"n":-0.037,"o":-0.050,"p":-0.053,"q":-0.068,"r":-0.080},
          {"t":0.618,"a":0.003,"b":0.004,"c":-0.001,"d":0.003,"e":-0.003,"f":-0.005,"g":-0.002,"h":-0.007,"i":-0.007,"j":-0.014,"k":-0.015,"l":-0.024,"m":-0.025,"n":-0.036,"o":-0.038,"p":-0.050,"q":-0.054,"r":-0.065},
          {"t":0.625,"a":0.007,"b":0.000,"c":0.002,"d":0.000,"e":0.001,"f":-0.001,"g":-0.005,"h":-0.003,"i":-0.009,"j":-0.009,"k":-0.017,"l":-0.017,"m":-0.027,"n":-0.027,"o":-0.038,"p":-0.039,"q":-0.052,"r":-0.061},
          {"t":0.633,"a":0.004,"b":0.003,"c":0.005,"d":-0.003,"e":-0.002,"f":-0.004,"g":-0.001,"h":-0.006,"i":-0.005,"j":-0.011,"k":-0.011,"l":-0.019,"m":-0.019,"n":-0.028,"o":-0.029,"p":-0.039,"q":-0.041,"r":-0.050},
          {"t":0.641,"a":0.002,"b":0.005,"c":0.001,"d":0.001,"e":-0.005,"f":-0.002,"g":-0.004,"h":-0.002,"i":-0.008,"j":-0.006,"k":-0.013,"l":-0.012,"m":-0.021,"n":-0.020,"o":-0.030,"p":-0.030,"q":-0.040,"r":-0.047},
          {"t":0.650,"a":0.006,"b":0.001,"c":0.003,"d":-0.002,"e":0.000,"f":0.000,"g":-0.003,"h":-0.005,"i":-0.003,"j":-0.008,"k":-0.008,"l":-0.014,"m":-0.013,"n":-0.021,"o":-0.021,"p":-0.029,"q":-0.029,"r":-0.036},
          {"t":0.660,"a":0.003,"b":0.004,"c":0.000,"d":0.002,"e":-0.002,"f":-0.003,"g":0.000,"h":-0.001,"i":-0.006,"j":-0.004,"k":-0.010,"l":-0.008,"m":-0.015,"n":-0.013,"o":-0.021,"p":-0.020,"q":-0.028,"r":-0.033},
          {"t":0.670,"a":0.005,"b":0.002,"c":0.004,"d":0.000,"e":0.001,"f":-0.001,"g":-0.003,"h":-0.004,"i":-0.001,"j":-0.006,"k":-0.004,"l":-0.010,"m":-0.008,"n":-0.014,"o":-0.012,"p":-0.019,"q":-0.018,"r":-0.022},
          {"t":0.680,"a":0.002,"b":0.006,"c":0.002,"d":-0.001,"e":-0.003,"f":-0.004,"g":0.001,"h":0.000,"i":-0.004,"j":-0.002,"k":-0.007,"l":-0.004,"m":-0.010,"n":-0.007,"o":-0.013,"p":-0.011,"q":-0.017,"r":-0.020},
          {"t":0.690,"a":0.004,"b":0.003,"c":-0.001,"d":0.003,"e":-0.001,"f":0.001,"g":-0.002,"h":-0.003,"i":0.000,"j":-0.004,"k":-0.002,"l":-0.006,"m":-0.004,"n":-0.009,"o":-0.006,"p":-0.012,"q":-0.010,"r":-0.012},
          {"t":0.699,"a":0.006,"b":0.001,"c":0.003,"d":0.000,"e":0.002,"f":-0.002,"g":0.000,"h":0.001,"i":-0.003,"j":0.000,"k":-0.004,"l":-0.001,"m":-0.006,"n":-0.003,"o":-0.008,"p":-0.005,"q":-0.009,"r":-0.011}
        ]
      },
      "transform": [
        {"fold": ["a","b","c","d","e","f","g","h","i","j","k","l","m","n","o","p","q","r"], "as": ["trace","cur"]}
      ],
      "mark": {"type": "line", "color": "#000000", "strokeWidth": 1.3},
      "encoding": {
        "x": {
          "field": "t",
          "type": "quantitative",
          "title": "t [s]",
          "scale": {"domain": [0.002, 0.699], "nice": false, "zero": false},
          "axis": {"values": [0.1, 0.6], "labelExpr": "'' + datum.value"}
        },
        "y": {
          "field": "cur",
          "type": "quantitative",
          "title": "I [nA]",
          "scale": {"domain": [-0.315, 0.839], "nice": false, "zero": false},
          "axis": {"values": [-0.3, 0, 0.3, 0.6], "labelExpr": "'' + datum.value"}
        },
        "detail": {"field": "trace"}
      }
    },
    {
      "data": {"values": [{"label": "25 °C\u00a0\u00a0Activation"}]},
      "mark": {"type": "text", "align": "right", "baseline": "alphabetic", "font": "DejaVu Sans", "fontSize": 19, "color": "#000000", "dx": -1, "dy": 4.5},
      "encoding": {
        "x": {"datum": 0.699, "type": "quantitative", "title": "t [s]", "scale": {"domain": [0.002, 0.699], "nice": false, "zero": false}},
        "y": {"datum": 0.839, "type": "quantitative", "title": "I [nA]", "scale": {"domain": [-0.315, 0.839], "nice": false, "zero": false}},
        "text": {"field": "label"}
      }
    },
    {
      "data": {"values": [{"label": "BBP Channelpedia ID 30505 rep 1"}]},
      "mark": {"type": "text", "angle": 270, "align": "center", "baseline": "top", "font": "DejaVu Sans", "fontSize": 13.5, "color": "#000000", "dy": 4},
      "encoding": {
        "x": {"datum": 0.699, "type": "quantitative", "title": "t [s]", "scale": {"domain": [0.002, 0.699], "nice": false, "zero": false}},
        "y": {"datum": 0.262, "type": "quantitative", "title": "I [nA]", "scale": {"domain": [-0.315, 0.839], "nice": false, "zero": false}},
        "text": {"field": "label"}
      }
    }
  ]
}
